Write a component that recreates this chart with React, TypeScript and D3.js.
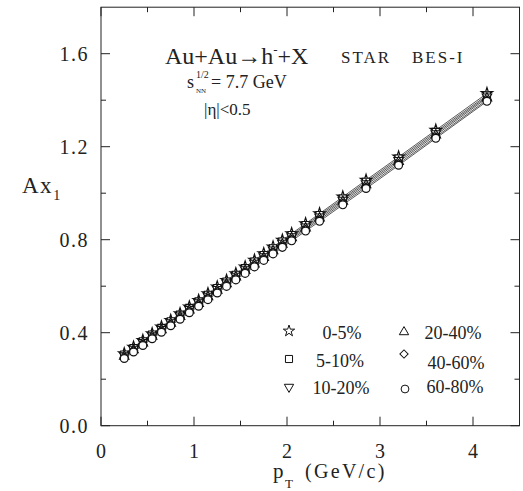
import React from "react";
import * as d3 from "d3";

const pT = [0.25, 0.35, 0.45, 0.55, 0.65, 0.75, 0.85, 0.95, 1.05, 1.15, 1.25, 1.35, 1.45, 1.55, 1.65, 1.75, 1.85, 1.95, 2.05, 2.2, 2.35, 2.6, 2.85, 3.2, 3.6, 4.15];

const c0_5 = [0.310, 0.338, 0.367, 0.396, 0.425, 0.453, 0.482, 0.511, 0.539, 0.568, 0.597, 0.625, 0.654, 0.683, 0.712, 0.740, 0.769, 0.798, 0.826, 0.869, 0.912, 0.984, 1.056, 1.156, 1.271, 1.429];
const c5_10 = [0.306, 0.334, 0.363, 0.392, 0.421, 0.449, 0.478, 0.507, 0.535, 0.563, 0.592, 0.620, 0.649, 0.678, 0.706, 0.734, 0.763, 0.792, 0.820, 0.863, 0.906, 0.977, 1.049, 1.149, 1.264, 1.421];
const c10_20 = [0.302, 0.330, 0.359, 0.388, 0.416, 0.444, 0.473, 0.502, 0.530, 0.558, 0.587, 0.615, 0.644, 0.672, 0.700, 0.728, 0.757, 0.786, 0.814, 0.856, 0.899, 0.971, 1.042, 1.142, 1.257, 1.415];
const c20_40 = [0.298, 0.326, 0.355, 0.384, 0.412, 0.440, 0.469, 0.497, 0.525, 0.554, 0.582, 0.610, 0.639, 0.667, 0.695, 0.723, 0.752, 0.780, 0.808, 0.850, 0.893, 0.964, 1.035, 1.135, 1.250, 1.409];
const c40_60 = [0.294, 0.322, 0.350, 0.379, 0.407, 0.435, 0.464, 0.492, 0.520, 0.548, 0.577, 0.605, 0.633, 0.661, 0.689, 0.717, 0.746, 0.774, 0.802, 0.844, 0.886, 0.957, 1.027, 1.127, 1.242, 1.401];
const c60_80 = [0.289, 0.317, 0.345, 0.374, 0.402, 0.430, 0.458, 0.486, 0.514, 0.542, 0.571, 0.599, 0.627, 0.655, 0.683, 0.711, 0.739, 0.767, 0.795, 0.837, 0.879, 0.950, 1.020, 1.120, 1.236, 1.395];

const seriesNames = ["0-5%", "5-10%", "10-20%", "20-40%", "40-60%", "60-80%"];
const seriesValues = [c0_5, c5_10, c10_20, c20_40, c40_60, c60_80];

const xTicks = [0, 1, 2, 3, 4];
const xMinor = [0.5, 1.5, 2.5, 3.5, 4.5];
const yTicks = [0, 0.4, 0.8, 1.2, 1.6];
const yMinor = [0.2, 0.6, 1.0, 1.4];

const FONT = "'Liberation Serif', 'Times New Roman', serif";
const INK = "#222";

const W = 523, H = 491;
const L = 101, R = 519.5, T = 7.2, B = 425.7;

const x = d3.scaleLinear().domain([0, 4.5]).range([L, R]);
const y = d3.scaleLinear().domain([0, 1.8]).range([B, T]);

const symbolDefs = [
  { type: d3.symbolStar, size: 40, rot: 0 },
  { type: d3.symbolSquare, size: 50, rot: 0 },
  { type: d3.symbolTriangle, size: 38, rot: 180 },
  { type: d3.symbolTriangle, size: 38, rot: 0 },
  { type: d3.symbolSquare, size: 34, rot: 45 },
  { type: d3.symbolCircle, size: 48, rot: 0 },
];

function symPath(i: number) {
  return d3.symbol().type(symbolDefs[i].type).size(symbolDefs[i].size)() as string;
}

const legendPos = [
  { sx: 289, sy: 331, tx: 342, ty: 339 },
  { sx: 289, sy: 359, tx: 340, ty: 367 },
  { sx: 289, sy: 387, tx: 341, ty: 394 },
  { sx: 404, sy: 332, tx: 453, ty: 339 },
  { sx: 404, sy: 354, tx: 456, ty: 369 },
  { sx: 405, sy: 389, tx: 455, ty: 393 },
];

export default function App() {
  const line = d3.line<number>().x((_, i) => x(pT[i])).y((d) => y(d));
  return (
    <svg width={W} height={H} style={{ position: "absolute", left: 0, top: 0, background: "#fff" }} fontFamily={FONT}>
      <rect x={0} y={0} width={W} height={H} fill="#fff" />
      {/* frame */}
      <rect x={L} y={T} width={R - L} height={B - T} fill="none" stroke={INK} strokeWidth={1} />
      {/* x ticks */}
      {xTicks.map((t) => (
        <g key={"xt" + t}>
          <line x1={x(t)} x2={x(t)} y1={B} y2={B - 9} stroke={INK} />
          <line x1={x(t)} x2={x(t)} y1={T} y2={T + 9} stroke={INK} />
          <text x={x(t)} y={458} textAnchor="middle" fontSize={20} fill={INK}>{t}</text>
        </g>
      ))}
      {xMinor.map((t) => (
        <g key={"xm" + t}>
          <line x1={x(t)} x2={x(t)} y1={B} y2={B - 5} stroke={INK} />
          <line x1={x(t)} x2={x(t)} y1={T} y2={T + 5} stroke={INK} />
        </g>
      ))}
      {yTicks.map((t) => (
        <g key={"yt" + t}>
          <line x1={L} x2={L + 9} y1={y(t)} y2={y(t)} stroke={INK} />
          <line x1={R} x2={R - 9} y1={y(t)} y2={y(t)} stroke={INK} />
          <text x={89} y={y(t) + 7} textAnchor="end" fontSize={20} letterSpacing={1.5} fill={INK}>{t.toFixed(1)}</text>
        </g>
      ))}
      {yMinor.map((t) => (
        <g key={"ym" + t}>
          <line x1={L} x2={L + 5} y1={y(t)} y2={y(t)} stroke={INK} />
          <line x1={R} x2={R - 5} y1={y(t)} y2={y(t)} stroke={INK} />
        </g>
      ))}
      {/* axis titles */}
      <text x={22} y={193} fontSize={23} letterSpacing={1.5} fill={INK}>Ax<tspan fontSize={14} dy={7}>1</tspan></text>
      <text x={273} y={478} fontSize={21} fill={INK}>p</text>
      <text x={285} y={488} fontSize={13} fill={INK}>T</text>
      <text x={305} y={478} fontSize={20} letterSpacing={2.3} fill={INK}>(GeV/c)</text>
      {/* annotations */}
      <text x={165} y={64} fontSize={24} fill={INK}>Au+Au→h<tspan fontSize={13} dy={-10}>-</tspan><tspan dy={10}>+X</tspan></text>
      <text x={341} y={63} fontSize={17} letterSpacing={2} fill={INK}>STAR</text>
      <text x={412} y={63} fontSize={17} letterSpacing={2} fill={INK}>BES-I</text>
      <text x={187} y={88} fontSize={18} fill={INK}>s</text>
      <text x={196} y={78} fontSize={10} fill={INK}>1/2</text>
      <text x={196} y={93} fontSize={7} fill={INK}>NN</text>
      <text x={211} y={88} fontSize={18} fill={INK}>= 7.7 GeV</text>
      <text x={204} y={115} fontSize={17} fill={INK}>|η|&lt;0.5</text>
      {/* lines */}
      {seriesValues.map((vals, si) => (
        <path key={"l" + si} d={line(vals) as string} fill="none" stroke="#111" strokeWidth={0.7} />
      ))}
      {/* markers */}
      {seriesValues.map((vals, si) => (
        <g key={"m" + si}>
          {vals.map((v, i) => (
            <path key={i} d={symPath(si)} transform={`translate(${x(pT[i])},${y(v)}) rotate(${symbolDefs[si].rot})`} fill="#fff" stroke="#111" strokeWidth={1.2} />
          ))}
        </g>
      ))}
      {/* legend */}
      {seriesNames.map((n, si) => (
        <g key={"lg" + si}>
          <path d={symPath(si)} transform={`translate(${legendPos[si].sx},${legendPos[si].sy}) rotate(${symbolDefs[si].rot})`} fill="#fff" stroke="#111" strokeWidth={1} />
          <text x={legendPos[si].tx} y={legendPos[si].ty} textAnchor="middle" fontSize={18} fill={INK}>{n}</text>
        </g>
      ))}
    </svg>
  );
}
